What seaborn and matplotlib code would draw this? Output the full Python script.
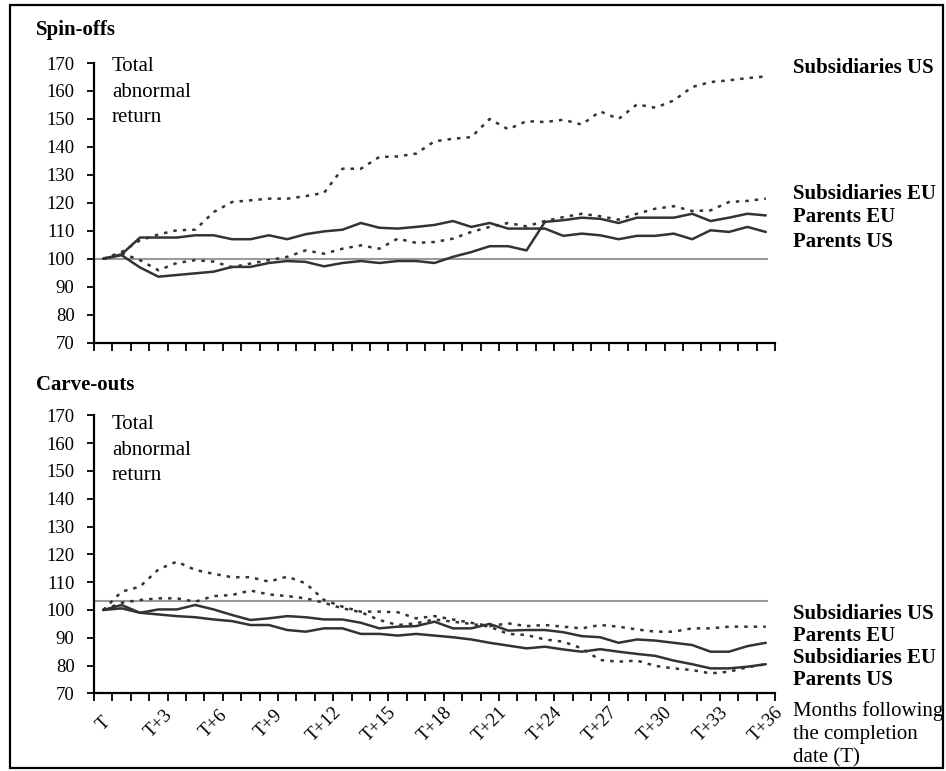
import matplotlib
matplotlib.use("Agg")
import matplotlib.pyplot as plt
import matplotlib.transforms as mtransforms
from matplotlib.patches import Rectangle
import numpy as np
import pandas as pd
import seaborn as sns

# Months after completion (T = 0 ... T+36)
months = list(range(37))
tick_positions = [0, 3, 6, 9, 12, 15, 18, 21, 24, 27, 30, 33, 36]
tick_labels = ["T", "T+3", "T+6", "T+9", "T+12", "T+15", "T+18", "T+21",
               "T+24", "T+27", "T+30", "T+33", "T+36"]

# Spin-offs: total abnormal return index (T = 100)
spin_sub_us = [100, 102.4, 106.6, 108.7, 110.2, 110.4, 116.7, 120.3, 120.9, 121.5,
               121.5, 122.4, 123.6, 132.2, 132.2, 136.4, 136.6, 137.6, 142.0, 142.9,
               143.5, 150.0, 146.3, 149.2, 148.9, 149.7, 148.0, 152.7, 150.0, 155.2,
               154.0, 156.6, 161.4, 163.2, 163.8, 164.6, 165.2]
spin_sub_eu = [100, 102.0, 99.5, 95.9, 98.5, 99.5, 99.0, 97.0, 98.3, 99.5,
               100.7, 103.0, 101.8, 103.6, 104.8, 103.6, 107.2, 105.7, 106.0, 107.2,
               109.6, 111.4, 112.8, 111.6, 113.5, 114.9, 116.1, 115.2, 114.0, 116.1,
               117.9, 118.8, 117.1, 117.3, 120.3, 120.7, 121.5]
spin_par_us = [100, 101.3, 96.9, 93.6, 94.2, 94.8, 95.4, 97.1, 97.1, 98.5,
               99.2, 98.9, 97.3, 98.5, 99.2, 98.5, 99.2, 99.2, 98.5, 100.7,
               102.4, 104.5, 104.5, 103.0, 113.2, 113.8, 114.7, 114.3, 112.8, 114.7,
               114.7, 114.7, 116.1, 113.5, 114.7, 116.1, 115.5]
spin_par_eu = [100, 101.6, 107.6, 107.6, 107.6, 108.4, 108.4, 107.0, 107.0, 108.4,
               107.0, 108.8, 109.8, 110.4, 112.8, 111.1, 110.8, 111.4, 112.1, 113.5,
               111.4, 112.8, 110.8, 110.8, 110.8, 108.2, 109.0, 108.4, 107.0, 108.2,
               108.2, 109.0, 107.0, 110.2, 109.6, 111.4, 109.6]

# Carve-outs: total abnormal return index (T = 100)
carve_sub_us = [100, 106.6, 108.4, 114.6, 117.4, 114.4, 113.0, 111.8, 111.8, 110.2,
                112.0, 109.6, 103.6, 101.2, 99.4, 99.4, 99.2, 97.0, 97.8, 96.6,
                95.4, 94.2, 95.2, 94.2, 94.6, 94.0, 93.4, 94.6, 94.0, 93.0,
                92.2, 92.2, 93.4, 93.4, 94.0, 94.0, 94.0]
carve_sub_eu = [100, 102.6, 103.6, 104.2, 104.2, 103.0, 105.0, 105.4, 107.0, 105.6,
                105.0, 104.2, 102.6, 100.6, 99.2, 96.4, 94.6, 95.2, 96.6, 95.8,
                95.0, 94.0, 91.4, 91.0, 89.4, 88.6, 86.2, 82.0, 81.4, 81.8,
                79.9, 79.0, 78.4, 77.2, 77.8, 79.4, 80.5]
carve_par_eu = [100, 101.8, 99.0, 100.2, 100.2, 101.8, 100.2, 98.2, 96.4, 97.0,
                97.8, 97.4, 96.6, 96.6, 95.4, 93.4, 94.0, 94.2, 95.8, 93.4,
                93.4, 95.0, 92.6, 92.8, 92.8, 92.0, 90.6, 90.2, 88.2, 89.4,
                89.0, 88.2, 87.4, 85.0, 85.0, 87.0, 88.2]
carve_par_us = [100, 100.6, 99.0, 98.4, 97.8, 97.4, 96.6, 96.0, 94.6, 94.6,
                92.8, 92.2, 93.4, 93.4, 91.4, 91.4, 90.8, 91.4, 90.8, 90.2,
                89.4, 88.2, 87.2, 86.2, 86.8, 85.8, 85.0, 85.9, 85.0, 84.2,
                83.5, 81.8, 80.5, 79.0, 79.0, 79.6, 80.5]

# Reference levels drawn as thin grey rules
spin_reference = 100
carve_reference = 103.3

# Right-hand series names and the y levels they are written at
spin_names = ["Subsidiaries US", "Subsidiaries EU", "Parents EU", "Parents US"]
spin_name_y = [166.5, 121.3, 113.2, 104.3]
carve_names = ["Subsidiaries US", "Parents EU", "Subsidiaries EU", "Parents US"]
carve_name_y = [96.8, 89.0, 81.1, 73.2]

sns.set_style("white")
plt.rcParams["font.family"] = ["Liberation Serif", "DejaVu Serif"]
plt.rcParams["text.color"] = "black"
plt.rcParams["axes.labelcolor"] = "black"
plt.rcParams["xtick.color"] = "black"
plt.rcParams["ytick.color"] = "black"

W, H = 946, 771
fig = plt.figure(figsize=(W / 100, H / 100), dpi=100)
fig.patch.set_facecolor("white")


def fx(px):
    return px / W


def fy(py):
    return 1 - py / H


LINE = "#333333"
DOTTED = (0, (1.4, 2.4))

left, right = 94, 775
ax_top = fig.add_axes([fx(left), fy(342.7), fx(right - left), fy(63) - fy(342.7)])
ax_bot = fig.add_axes([fx(left), fy(693.4), fx(right - left), fy(415.4) - fy(693.4)])


def long_frame(series):
    rows = []
    for name, vals in series.items():
        for m, v in zip(months, vals):
            rows.append({"month": m, "value": v, "series": name})
    return pd.DataFrame(rows)


def draw_panel(ax, series, styles, ref):
    df = long_frame(series)
    ax.hlines(ref, -0.5, 36.1, color="#9a9a9a", linewidth=1.5, zorder=1)
    for name in series:
        sub = df[df["series"] == name]
        sns.lineplot(data=sub, x="month", y="value", ax=ax, color=LINE,
                     linewidth=1.8, linestyle=styles[name], zorder=3,
                     legend=False)
    ax.set_xlim(-0.5, 36.5)
    ax.set_ylim(70, 170)
    ax.set_yticks(np.arange(70, 171, 10))
    ax.set_xticks(tick_positions)
    ax.set_xticks(np.arange(-0.5, 37, 1), minor=True)
    ax.set_xlabel("")
    ax.set_ylabel("")
    for side in ("top", "right"):
        ax.spines[side].set_visible(False)
    for side in ("left", "bottom"):
        ax.spines[side].set_color("black")
        ax.spines[side].set_linewidth(1.6)
    ax.tick_params(axis="y", direction="out", length=5, width=1.3,
                   colors="black", labelsize=13.5, pad=9, left=True)
    ax.tick_params(axis="x", which="minor", direction="out", length=6,
                   width=1.3, color="black", bottom=True)
    ax.tick_params(axis="x", which="major", length=0, labelsize=13.5, pad=22,
                   labelcolor="black")
    ax.grid(False)
    ax.set_facecolor("white")


draw_panel(ax_top,
           {"Subsidiaries US": spin_sub_us, "Subsidiaries EU": spin_sub_eu,
            "Parents US": spin_par_us, "Parents EU": spin_par_eu},
           {"Subsidiaries US": DOTTED, "Subsidiaries EU": DOTTED,
            "Parents US": "-", "Parents EU": "-"},
           spin_reference)
draw_panel(ax_bot,
           {"Subsidiaries US": carve_sub_us, "Subsidiaries EU": carve_sub_eu,
            "Parents US": carve_par_us, "Parents EU": carve_par_eu},
           {"Subsidiaries US": DOTTED, "Subsidiaries EU": DOTTED,
            "Parents US": "-", "Parents EU": "-"},
           carve_reference)

ax_top.set_xticklabels([])
ax_bot.set_xticklabels(tick_labels)
for lab in ax_bot.get_xticklabels():
    lab.set_rotation(45)
    lab.set_ha("center")
    lab.set_va("center")

# Panel titles and axis captions
fig.text(fx(36), fy(30), "Spin-offs", fontsize=15, fontweight="bold",
         va="center", color="black")
fig.text(fx(36), fy(385), "Carve-outs", fontsize=15, fontweight="bold",
         va="center", color="black")
for y0 in (71, 429):
    for k, word in enumerate(["Total", "abnormal", "return"]):
        fig.text(fx(112), fy(y0 + 25.7 * k), word, fontsize=15,
                 va="baseline", color="black")

# Series names at the right of each panel
for ax, names, ys in ((ax_top, spin_names, spin_name_y),
                      (ax_bot, carve_names, carve_name_y)):
    trans = mtransforms.blended_transform_factory(ax.transAxes, ax.transData)
    for name, y in zip(names, ys):
        ax.text((793 - left) / (right - left), y, name, transform=trans,
                fontsize=15, fontweight="bold", va="baseline", ha="left",
                color="black", clip_on=False)

for k, line in enumerate(["Months following", "the completion", "date (T)"]):
    fig.text(fx(793), fy(716 + 23 * k), line, fontsize=15, va="baseline",
             color="black")

# Outer frame
fig.patches.append(Rectangle((fx(10), fy(768)), fx(943) - fx(10),
                             fy(5) - fy(768), transform=fig.transFigure,
                             fill=False, edgecolor="black", linewidth=1.6))

fig.savefig("out.png", dpi=100, facecolor="white")
